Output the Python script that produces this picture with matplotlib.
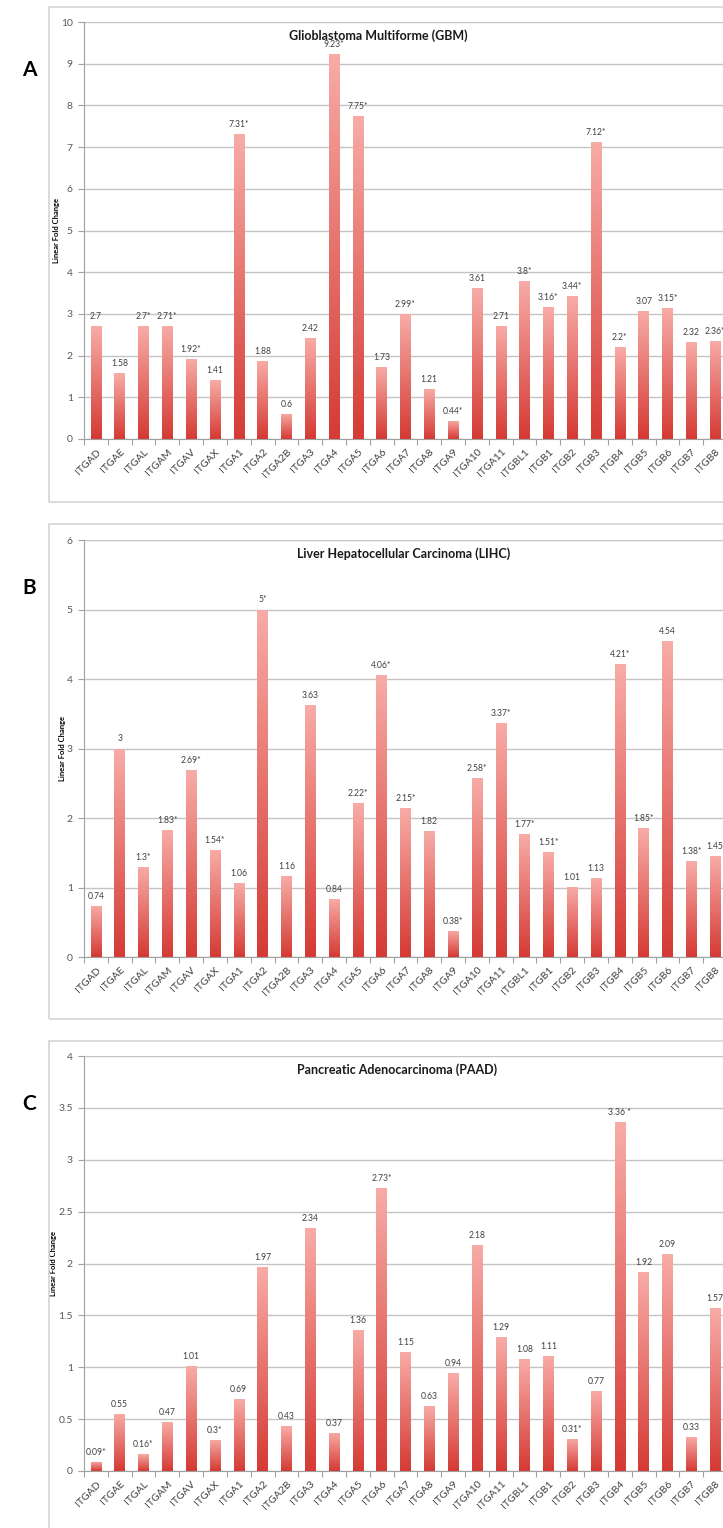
import numpy as np
import matplotlib
matplotlib.use("Agg")
import matplotlib.pyplot as plt
from matplotlib.patches import Rectangle

plt.rcParams['font.family'] = ['Lato', 'DejaVu Sans']

# 整合素基因名称
genes = ["ITGAD", "ITGAE", "ITGAL", "ITGAM", "ITGAV", "ITGAX", "ITGA1", "ITGA2",
         "ITGA2B", "ITGA3", "ITGA4", "ITGA5", "ITGA6", "ITGA7", "ITGA8", "ITGA9",
         "ITGA10", "ITGA11", "ITGBL1", "ITGB1", "ITGB2", "ITGB3", "ITGB4", "ITGB5",
         "ITGB6", "ITGB7", "ITGB8"]

# 各癌症的线性倍数变化
gbm_values = [2.7, 1.58, 2.7, 2.71, 1.92, 1.41, 7.31, 1.88, 0.6, 2.42, 9.23, 7.75, 1.73,
              2.99, 1.21, 0.44, 3.61, 2.71, 3.8, 3.16, 3.44, 7.12, 2.2, 3.07, 3.15, 2.32, 2.36]
gbm_marks = ["", "", "*", "*", "*", "", "*", "", "", "", "*", "*", "",
             "*", "", "*", "", "", "*", "*", "*", "*", "*", "", "*", "", "*"]

lihc_values = [0.74, 3, 1.3, 1.83, 2.69, 1.54, 1.06, 5, 1.16, 3.63, 0.84, 2.22, 4.06,
               2.15, 1.82, 0.38, 2.58, 3.37, 1.77, 1.51, 1.01, 1.13, 4.21, 1.85, 4.54, 1.38, 1.45]
lihc_marks = ["", "", "*", "*", "*", "*", "", "*", "", "", "", "*", "*",
              "*", "", "*", "*", "*", "*", "*", "", "", "*", "*", "", "*", ""]

paad_values = [0.09, 0.55, 0.16, 0.47, 1.01, 0.3, 0.69, 1.97, 0.43, 2.34, 0.37, 1.36, 2.73,
               1.15, 0.63, 0.94, 2.18, 1.29, 1.08, 1.11, 0.31, 0.77, 3.36, 1.92, 2.09, 0.33, 1.57]
paad_marks = ["*", "", "*", "", "", "*", "", "", "", "", "", "", "*",
              "", "", "", "", "", "", "", "*", "", " *", "", "", "", ""]

W, H = 723, 1528
fig = plt.figure(figsize=(W / 100, H / 100), dpi=100)

# 渐变色：上浅下深
top_c = np.array([248, 172, 167]) / 255
bot_c = np.array([213, 58, 52]) / 255
grad = np.linspace(0, 1, 256)[:, None, None]
grad_img = top_c * (1 - grad) + bot_c * grad


def draw_panel(values, marks, ymax, ystep, title, title_x, letter,
               frame_top, frame_bot, ax_top, ax_bot):
    # 外框
    fig.patches.append(Rectangle((49 / W, 1 - frame_bot / H), 800 / W,
                                 (frame_bot - frame_top) / H, transform=fig.transFigure,
                                 fill=False, edgecolor="#d4d4d4", linewidth=1.2))
    ax = fig.add_axes([84 / W, 1 - ax_bot / H, (727 - 84) / W, (ax_bot - ax_top) / H])
    x = np.arange(len(genes))
    bars = ax.bar(x, values, width=0.44, color="none", edgecolor="none", zorder=3)
    for b in bars:
        im = ax.imshow(grad_img, extent=[b.get_x(), b.get_x() + b.get_width(), 0, b.get_height()],
                       aspect="auto", zorder=3, interpolation="bilinear")
        im.set_clip_path(b)
    for xi, v, m in zip(x, values, marks):
        ax.text(xi, v + ymax * 0.012, f"{v:g}{m}", ha="center", va="bottom",
                fontsize=6.2, color="#404040", zorder=4)
    ax.set_xlim(-0.5, len(genes) - 0.5)
    ax.set_ylim(0, ymax)
    ticks = np.arange(0, ymax + ystep / 2, ystep)
    ax.set_yticks(ticks)
    ax.set_yticklabels([f"{t:g}" for t in ticks])
    ax.set_xticks(x)
    ax.set_xticklabels(genes, rotation=45, ha="right", rotation_mode="anchor",
                       fontsize=7.5, color="#404040")
    ax.set_xticks(np.arange(-0.5, len(genes), 1), minor=True)
    ax.tick_params(axis="x", which="major", length=0, pad=6)
    ax.tick_params(axis="x", which="minor", length=4, color="#a0a0a0", width=0.8)
    ax.tick_params(axis="y", length=4, color="#a0a0a0", width=0.8, labelsize=7.5,
                   labelcolor="#595959", pad=4)
    ax.grid(axis="y", color="#c4c4c4", linewidth=1, zorder=0)
    ax.set_axisbelow(True)
    for s in ["top", "right"]:
        ax.spines[s].set_visible(False)
    for s in ["left", "bottom"]:
        ax.spines[s].set_color("#a0a0a0")
        ax.spines[s].set_linewidth(0.8)
    ax.set_ylabel("Linear Fold Change", fontsize=5.5, fontweight="bold", labelpad=1)
    fig.text(title_x / W, 1 - (ax_top + 14) / H, title, ha="center", va="center",
             fontsize=9, fontweight="bold", color="#1a1a1a")
    fig.text(22 / W, 1 - (ax_top + 48) / H, letter, ha="left", va="center",
             fontsize=15, fontweight="bold", color="black")
    return ax


draw_panel(gbm_values, gbm_marks, 10, 1, "Glioblastoma Multiforme (GBM)", 378, "A",
           7, 502, 22, 439)
draw_panel(lihc_values, lihc_marks, 6, 1, "Liver Hepatocellular Carcinoma (LIHC)", 404, "B",
           524, 1019, 540, 957)
draw_panel(paad_values, paad_marks, 4, 0.5, "Pancreatic Adenocarcinoma (PAAD)", 397, "C",
           1041, 1545, 1056, 1471)

fig.savefig("out.png", dpi=100)
plt.close(fig)
